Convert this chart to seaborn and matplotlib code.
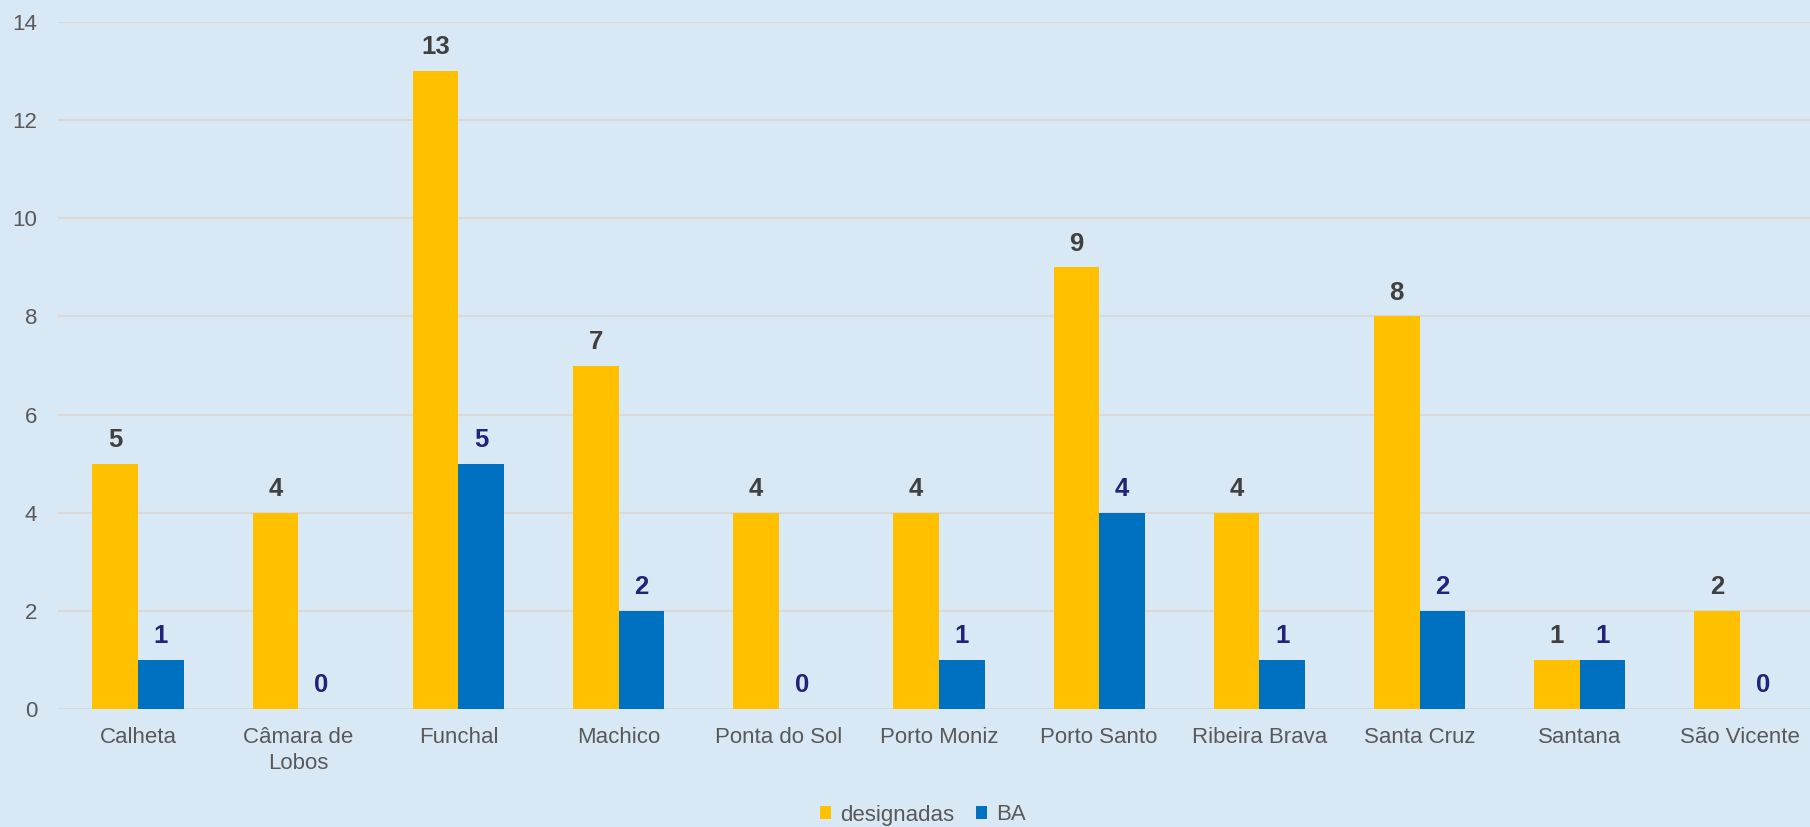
import matplotlib
matplotlib.use("Agg")
import matplotlib.pyplot as plt
from matplotlib.patches import Patch
import seaborn as sns
import pandas as pd

# --- data ---
municipios = ["Calheta", "Câmara de\nLobos", "Funchal", "Machico", "Ponta do Sol",
              "Porto Moniz", "Porto Santo", "Ribeira Brava", "Santa Cruz",
              "Santana", "São Vicente"]
designadas = [5, 4, 13, 7, 4, 4, 9, 4, 8, 1, 2]
ba = [1, 0, 5, 2, 0, 1, 4, 1, 2, 1, 0]
series_names = ["designadas", "BA"]
yticks = [0, 2, 4, 6, 8, 10, 12, 14]

df = pd.DataFrame({
    "municipio": municipios * 2,
    "serie": [series_names[0]] * len(municipios) + [series_names[1]] * len(municipios),
    "valor": designadas + ba,
})

BG = "#D8E8F4"
colors = {"designadas": "#FFC000", "BA": "#0070C0"}
label_colors = ["#404040", "#22227A"]
TXT = "#595959"

sns.set_theme(style="white")
plt.rcParams["font.family"] = ["Liberation Sans", "DejaVu Sans"]

fig = plt.figure(figsize=(18.10, 8.27), dpi=100, facecolor=BG)
ax = fig.add_axes([58 / 1810, 118 / 827, (1820 - 58) / 1810, (709 - 22) / 827])
ax.set_facecolor(BG)

sns.barplot(data=df, x="municipio", y="valor", hue="serie", order=municipios,
            hue_order=series_names, palette=colors, width=0.57, gap=0,
            saturation=1, ax=ax, legend=False, errorbar=None, zorder=3,
            linewidth=0, edgecolor="none")

ax.set_ylim(0, 14)
ax.set_xlim(-0.5, len(municipios) - 0.5)
ax.set_yticks(yticks)
ax.yaxis.grid(True, color="#D9D9D9", linewidth=1.5, zorder=0)
ax.xaxis.grid(False)
ax.set_axisbelow(True)
for s in ax.spines.values():
    s.set_visible(False)
ax.set_xlabel("")
ax.set_ylabel("")
ax.tick_params(axis="y", length=0, pad=15, labelsize=16, labelcolor=TXT)
ax.tick_params(axis="x", length=0, pad=13, labelsize=16, labelcolor=TXT)
for t in ax.get_xticklabels():
    t.set_linespacing(1.3)

for cont, col in zip(ax.containers, label_colors):
    ax.bar_label(cont, fmt="%d", padding=8.5, fontsize=18.5, fontweight="bold", color=col)

handles = [Patch(facecolor=colors[n], edgecolor="none", label=n) for n in series_names]
fig.legend(handles=handles, loc="center", bbox_to_anchor=(923 / 1810, 1 - 815 / 827),
           ncol=2, frameon=False, fontsize=16, labelcolor=TXT,
           handlelength=0.5, handleheight=0.5, handletextpad=0.4, columnspacing=1.0,
           borderpad=0, borderaxespad=0)

fig.savefig("out.png", dpi=100, facecolor=BG)
